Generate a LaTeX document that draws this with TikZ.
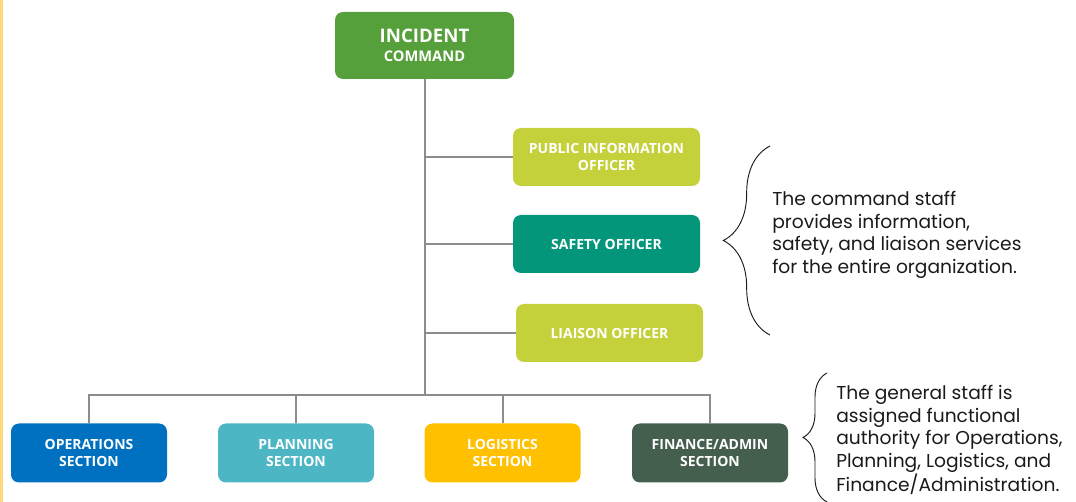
\documentclass[tikz,border=0pt]{standalone}
\usepackage{fontspec}
\setmainfont{Poppins}
\newfontfamily\labelfont{Open Sans}
\usetikzlibrary{decorations.pathreplacing}

\definecolor{cmdgreen}{HTML}{55A03B}
\definecolor{limegreen}{HTML}{C4D13B}
\definecolor{safeteal}{HTML}{04967A}
\definecolor{opsblue}{HTML}{0070C0}
\definecolor{planblue}{HTML}{4DB6C5}
\definecolor{logiyellow}{HTML}{FFC000}
\definecolor{findark}{HTML}{455F4F}
\definecolor{edgeyellow}{HTML}{FFDA7B}
\definecolor{linegray}{HTML}{8C8C8C}
\definecolor{textdark}{HTML}{1A1A1A}

\tikzset{
  box/.style={rounded corners=6pt,text=white,align=center,inner sep=0pt,
    font=\labelfont\bfseries\fontsize{10.5pt}{12.5pt}\selectfont},
  topbox/.style={box,fill=cmdgreen,minimum width=134.25pt,minimum height=50.25pt},
  officer/.style={box,minimum width=140.25pt,minimum height=43.5pt},
  section/.style={box,minimum width=117pt,minimum height=44.25pt},
  link/.style={draw=linegray,line width=1.5pt},
  staffbrace/.style={draw=textdark,line width=0.7pt,decorate},
  note/.style={text=textdark,align=left,inner sep=0pt,anchor=west,
    font=\fontsize{14pt}{16.9pt}\selectfont}
}

\begin{document}
\begin{tikzpicture}[x=0.75pt,y=-0.75pt]

    % -- Page frame (pixel grid, y pointing down) --
    \useasboundingbox (0,0) rectangle (1076,502);
    \fill [edgeyellow] (0,0) rectangle (3,502);   % yellow strip on the left edge

    % -- Incident command at the top --
    \node[topbox] (incident) at (424.5,45.5)
      {{\fontsize{14pt}{14pt}\selectfont INCIDENT}\\[1.5pt]{\fontsize{11pt}{14pt}\selectfont COMMAND}};

    % -- Command staff --
    \node[officer,fill=limegreen] (pio)     at (606.5,157) {PUBLIC INFORMATION\\OFFICER};
    \node[officer,fill=safeteal]  (safety)  at (606.5,244) {SAFETY OFFICER};
    \node[officer,fill=limegreen] (liaison) at (609.5,333) {LIAISON OFFICER};

    % -- General staff --
    \node[section,fill=opsblue]    (ops)  at (89,453)    {OPERATIONS\\SECTION};
    \node[section,fill=planblue]   (plan) at (296,453)   {PLANNING\\SECTION};
    \node[section,fill=logiyellow] (logi) at (502.5,453) {LOGISTICS\\SECTION};
    \node[section,fill=findark]    (fin)  at (710,453)   {FINANCE/ADMIN\\SECTION};

    % -- Connectors --
    \coordinate (busjoint) at (424.5,395);
    \draw[link] (incident.south) -- (busjoint);
    \draw[link] (pio.west) -- (pio.west -| incident.south);
    \draw[link] (safety.west) -- (safety.west -| incident.south);
    \draw[link] (liaison.west) -- (liaison.west -| incident.south);
    \draw[link] (ops.north) |- (busjoint) -| (fin.north);
    \draw[link] (plan.north) -- (plan.north |- busjoint);
    \draw[link] (logi.north) -- (logi.north |- busjoint);

    % -- Braces and notes on the right --
    \draw[staffbrace,decoration={brace,amplitude=35pt}] (770,335) -- (770,146);
    \node[note] (cmdnote) at (772,235)
      {The command staff\\provides information,\\safety, and liaison services\\for the entire organization.};

    \draw[staffbrace,decoration={brace,amplitude=18pt}] (827,502) -- (827,373);
    \node[note] (gennote) at (836,440)
      {The general staff is\\assigned functional\\authority for Operations,\\Planning, Logistics, and\\Finance/Administration.};

\end{tikzpicture}
\end{document}
